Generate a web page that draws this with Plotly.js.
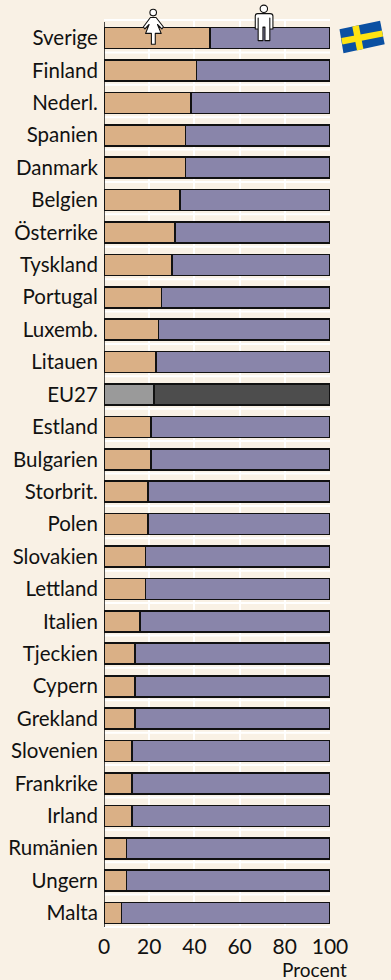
<!DOCTYPE html>
<html><head><meta charset="utf-8">
<script src="https://cdn.plot.ly/plotly-3.0.1.min.js"></script>
<style>html,body{margin:0;padding:0;background:#f9f1e5;overflow:hidden}#c{width:391px;height:980px}</style>
</head><body><div id="c"></div>
<script>
const countries=["Sverige","Finland","Nederl.","Spanien","Danmark","Belgien","Österrike","Tyskland","Portugal","Luxemb.","Litauen","EU27","Estland","Bulgarien","Storbrit.","Polen","Slovakien","Lettland","Italien","Tjeckien","Cypern","Grekland","Slovenien","Frankrike","Irland","Rumänien","Ungern","Malta"];
const women=[47,41,38.5,36,36,33.7,31.3,30.2,25.4,24.2,23,22,20.7,20.7,19.4,19.4,18.4,18.4,16,13.6,13.6,13.6,12.5,12.5,12.5,10,10,7.7];
const men=[53,59,61.5,64,64,66.3,68.7,69.8,74.6,75.8,77,78,79.3,79.3,80.6,80.6,81.6,81.6,84,86.4,86.4,86.4,87.5,87.5,87.5,90,90,92.3];
const xTicks=[0,20,40,60,80,100];
const FONT='Lato, "Noto Sans", sans-serif', INK='#111111', BG='#f9f1e5';
const TAN='#dab086', PURPLE='#8985aa', GREY='#9a9a9a', DARK='#4d4d4d';
const W=391,H=980,L=104,R=330.5,T=20,B=927;
const rowPx=32.41, firstCenter=38;
const colorsW=countries.map(c=>c==='EU27'?GREY:TAN);
const colorsM=countries.map(c=>c==='EU27'?DARK:PURPLE);
const overlay=`<svg xmlns="http://www.w3.org/2000/svg" width="391" height="60" viewBox="0 0 391 60">
<g stroke="#111" stroke-width="1.1" fill="#fff" stroke-linejoin="round">
<circle cx="153.3" cy="12.6" r="3.3"/>
<path d="M150.5 17.5H156.2L163.6 27L162 28.8L157.6 24.5L161.3 33.4H155.4V44.3H151.5V33.4H145.7L149.2 24.5L145 28.8L143.4 27Z"/>
<circle cx="264.2" cy="8.8" r="3.7"/>
<path d="M258 13.6H270.5Q273.3 13.6 273.3 16V29H270.2V18V40.6H265.3V27H263.3V40.6H258.5V18V29H255.6V16Q255.6 13.6 258 13.6Z"/>
</g>
<polygon points="340,29.3 380.7,20.7 385.3,44.3 344,53.3" fill="#0b50a2"/>
<polygon points="352.8,26.6 359.4,25.2 364,49 357.6,50.4" fill="#ffe312"/>
<polygon points="341.8,38 382.6,30.4 383.7,36.4 343,44.6" fill="#ffe312"/>
</svg>`;
const px2x=p=>(p-L)/(R-L), px2y=p=>1-(p-T)/(B-T);
const toIdx=p=>(p-firstCenter)/rowPx;
const shapes=[];
for(let k=0;k<=28;k++){
  const p=T+k*(B-T)/28;
  shapes.push({type:'line',layer:'below',xref:'x',yref:'paper',x0:0,x1:100,y0:px2y(p),y1:px2y(p),line:{color:'#ffffff',width:2}});
}
const data=[
 {type:'bar',orientation:'h',name:'Kvinnor',y:countries,x:women,marker:{color:colorsW,line:{color:INK,width:1.6}},hoverinfo:'skip'},
 {type:'bar',orientation:'h',name:'Män',y:countries,x:men,marker:{color:colorsM,line:{color:INK,width:1.6}},hoverinfo:'skip'}
];
const layout={
 width:W,height:H,paper_bgcolor:BG,plot_bgcolor:BG,showlegend:false,barmode:'stack',bargap:0.352,
 margin:{l:L,r:W-R,t:T,b:H-B,pad:0},
 font:{family:FONT,color:INK,size:19},
 xaxis:{range:[0,100],tickvals:xTicks,showgrid:true,gridcolor:'#ffffff',gridwidth:2,zeroline:false,showline:false,ticks:'outside',ticklen:1,tickcolor:BG,tickfont:{family:FONT,size:21,color:INK},tickangle:0},
 yaxis:{type:'category',categoryorder:'array',categoryarray:countries,range:[toIdx(B),toIdx(T)],showgrid:false,zeroline:false,showline:false,ticks:'outside',ticklen:1,tickcolor:BG,tickfont:{family:FONT,size:20.5,color:INK}},
 shapes:shapes.concat([{type:'line',layer:'above',xref:'x',yref:'paper',x0:0,x1:0,y0:px2y(22),y1:0,line:{color:INK,width:1.5}}]),
 annotations:[{xref:'paper',yref:'paper',x:px2x(350),y:px2y(969),xanchor:'right',yanchor:'middle',showarrow:false,text:'Procent',font:{family:FONT,size:19,color:INK}}],
 images:[{source:'data:image/svg+xml;charset=utf-8,'+encodeURIComponent(overlay),xref:'paper',yref:'paper',x:px2x(0),y:px2y(0),sizex:W/(R-L),sizey:60/(B-T),sizing:'stretch',xanchor:'left',yanchor:'top',layer:'above'}]
};
Plotly.newPlot('c',data,layout,{displayModeBar:false,staticPlot:true});
</script></body></html>
